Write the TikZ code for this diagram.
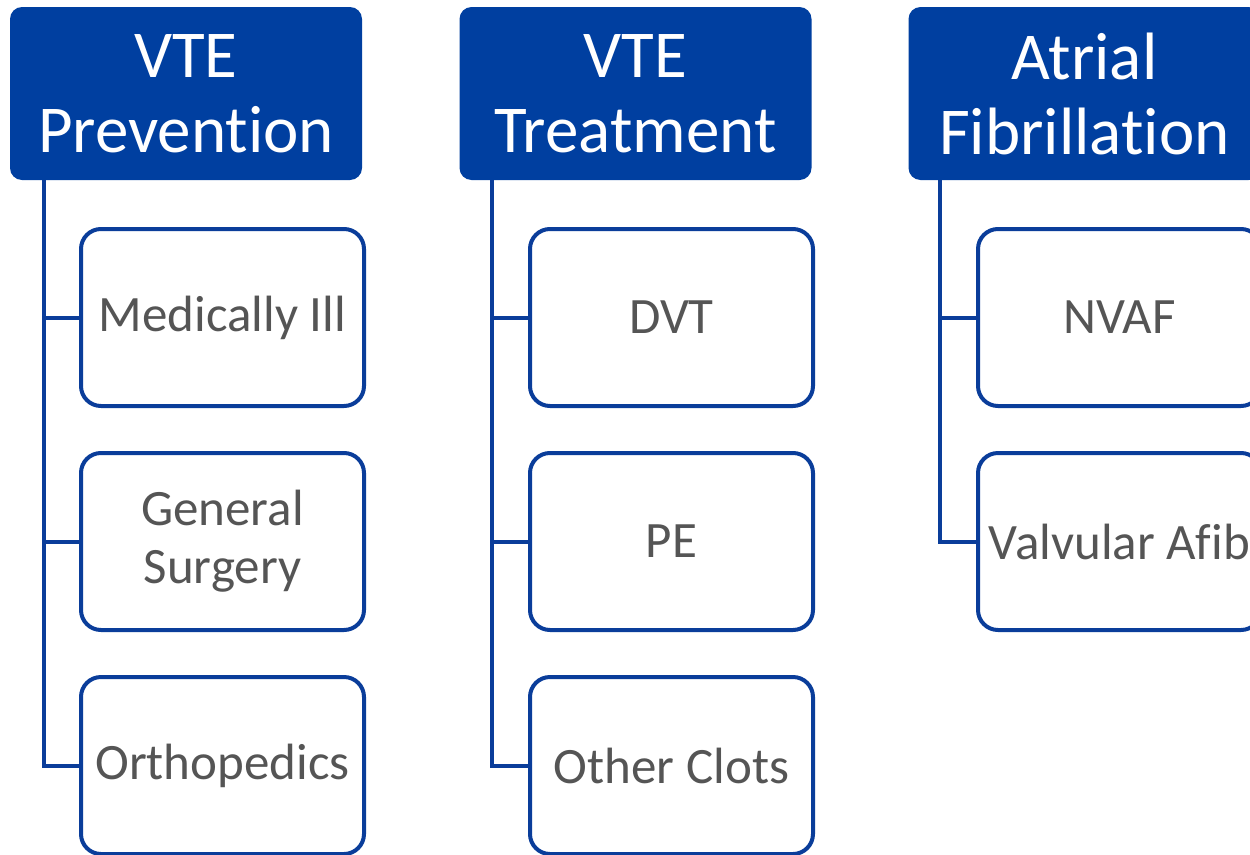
\documentclass[tikz,border=0pt]{standalone}
\usepackage{fontspec}
\setmainfont{Carlito}[Ligatures={NoCommon}]
\definecolor{hblue}{HTML}{003FA0}
\definecolor{lblue}{HTML}{0A3D9A}
\definecolor{tgray}{HTML}{555555}
\begin{document}
\begin{tikzpicture}[x=1pt,y=-1pt,
 header/.style={fill=hblue, rounded corners=12pt, minimum width=352pt, minimum height=173pt, text=white, font=\fontsize{67}{75}\selectfont, align=center, inner sep=0pt},
 child/.style={draw=lblue, line width=4pt, fill=white, rounded corners=20pt, minimum width=283pt, minimum height=177pt, text=tgray, font=\fontsize{51}{58}\selectfont, align=center, inner sep=0pt},
 conn/.style={draw=lblue, line width=4pt}]
\useasboundingbox (0,0) rectangle (1250,854);
\clip (0,0) rectangle (1250,854);

% headers
\node[header] (h1) at (186,93.5) {VTE\\Prevention};
\node[header] (h2) at (635.5,93.5) {VTE\\Treatment};
\node[header] (h3) at (1084.5,93.5) {Atrial\\Fibrillation};

% children column 1
\node[child] (c11) at (222.5,317.5) {Medically Ill};
\node[child] (c12) at (222.5,541.5) {General\\Surgery};
\node[child] (c13) at (222.5,765.5) {Orthopedics};
% column 2
\node[child] (c21) at (671.5,317.5) {DVT};
\node[child] (c22) at (671.5,541.5) {PE};
\node[child] (c23) at (671.5,765.5) {Other Clots};
% column 3
\node[child] (c31) at (1119.5,317.5) {NVAF};
\node[child] (c32) at (1119.5,541.5) {Valvular Afib};

% connectors
\coordinate (t1) at ([xshift=34pt]h1.south west);
\coordinate (t2) at ([xshift=33pt]h2.south west);
\coordinate (t3) at ([xshift=32pt]h3.south west);
\draw[conn] (t1) |- (c13.west);
\draw[conn] (t1) |- (c11.west);
\draw[conn] (t1) |- (c12.west);
\draw[conn] (t2) |- (c23.west);
\draw[conn] (t2) |- (c21.west);
\draw[conn] (t2) |- (c22.west);
\draw[conn] (t3) |- (c32.west);
\draw[conn] (t3) |- (c31.west);
\end{tikzpicture}
\end{document}
